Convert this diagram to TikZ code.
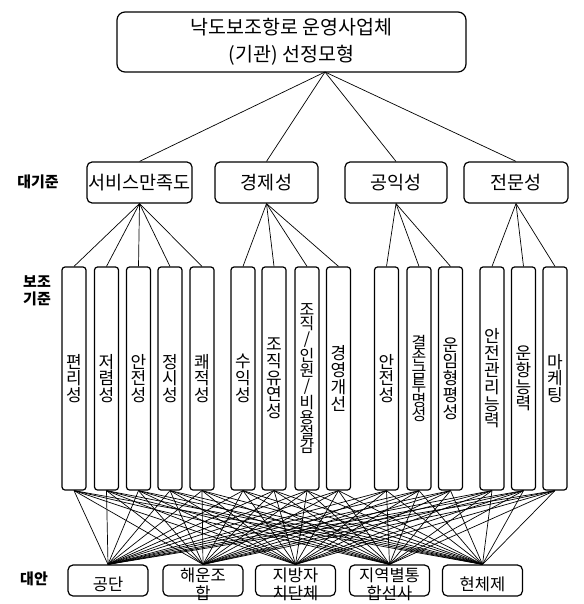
\documentclass[tikz,border=0pt]{standalone}
\usepackage{fontspec}
\setmainfont{Noto Sans CJK KR}
\begin{document}
\begin{tikzpicture}[x=1pt,y=-1pt,
  box/.style={draw, line width=1.2pt, rounded corners=5pt, inner sep=0pt},
  catbox/.style={box, minimum height=41pt, font=\fontsize{18.5}{20}\selectfont},
  subbox/.style={box, rounded corners=3pt, minimum width=24pt, minimum height=223pt, align=center, font=\fontsize{17}{16.8}\selectfont},
  altbox/.style={box, minimum width=80pt, minimum height=31pt},
  alttext/.style={align=center, inner sep=0pt, font=\fontsize{16.5}{18}\selectfont},
  con/.style={line width=0.7pt},
  lab/.style={align=center, inner sep=0pt, font=\fontsize{15}{17}\selectfont\bfseries}]
\useasboundingbox (0,0) rectangle (583,604);

% title
\node[box, rounded corners=8pt, minimum width=349pt, minimum height=60pt, align=center,
      font=\fontsize{19.5}{27}\selectfont] (top) at (291.5,42) {낙도보조항로 운영사업체\\(기관) 선정모형};
\coordinate (tp) at (325,72);

% level labels
\node[lab] (l1) at (38,182) {대기준};
\node[lab] (l2) at (37,291) {보조\\기준};
\node[lab] (l3) at (34,579) {대안};

% categories
\node[catbox, minimum width=105pt] (c1) at (139.5,182.5) {서비스만족도};
\node[catbox, minimum width=103pt] (c2) at (266.5,182.5) {경제성};
\node[catbox, minimum width=102pt] (c3) at (396,182.5) {공익성};
\node[catbox, minimum width=104pt] (c4) at (516,182.5) {전문성};

% sub-criteria
\node[subbox] (s1) at (74,378.5) {편\\리\\성};
\node[subbox] (s2) at (106.5,378.5) {저\\렴\\성};
\node[subbox] (s3) at (138.5,378.5) {안\\전\\성};
\node[subbox] (s4) at (170,378.5) {정\\시\\성};
\node[subbox] (s5) at (202,378.5) {쾌\\적\\성};
\node[subbox] (s6) at (243,378.5) {수\\익\\성};
\node[subbox] (s7) at (274,378.5) {조\\직\\유\\연\\성};
\node[subbox, font=\fontsize{16}{14.8}\selectfont] (s8) at (307,378.5) {조\\직\\/\\인\\원\\/\\비\\용\\절\\감};
\node[subbox] (s9) at (338.5,378.5) {경\\영\\개\\선};
\node[subbox] (s10) at (386.5,378.5) {안\\전\\성};
\node[subbox, font=\fontsize{16}{14.5}\selectfont] (s11) at (419,378.5) {결\\손\\금\\투\\명\\성};
\node[subbox] (s12) at (450.5,378.5) {운\\임\\형\\평\\성};
\node[subbox] (s13) at (492,378.5) {안\\전\\관\\리\\능\\력};
\node[subbox] (s14) at (523.5,378.5) {운\\항\\능\\력};
\node[subbox] (s15) at (555,378.5) {마\\케\\팅};

% alternatives
\node[altbox] (a1) at (108,580.5) {};
\node[altbox] (a2) at (203,580.5) {};
\node[altbox] (a3) at (295.5,580.5) {};
\node[altbox] (a4) at (389.5,580.5) {};
\node[altbox] (a5) at (482.5,580.5) {};
\node[alttext] (t1) at (108,584) {공단};
\node[alttext] (t2) at (203,584) {해운조\\합};
\node[alttext] (t3) at (295.5,584) {지방자\\치단체};
\node[alttext] (t4) at (389.5,584) {지역별통\\합선사};
\node[alttext] (t5) at (482.5,584) {현체제};

% connectors: title to categories
\foreach \c in {c1,c2,c3,c4} \draw[con] (tp) -- (\c.north);
% categories to sub-criteria
\foreach \s in {s1,s2,s3,s4,s5} \draw[con] (c1.south) -- (\s.north);
\foreach \s in {s6,s7,s8,s9} \draw[con] (c2.south) -- (\s.north);
\foreach \s in {s10,s11,s12} \draw[con] (c3.south) -- (\s.north);
\foreach \s in {s13,s14,s15} \draw[con] (c4.south) -- (\s.north);
% sub-criteria to alternatives
\foreach \s in {s1,s2,s3,s4,s5,s6,s7,s8,s9,s10,s11,s12,s13,s14,s15}
  \foreach \a in {a1,a2,a3,a4,a5}
    \draw[con] (\s.south) -- (\a.north);
\end{tikzpicture}
\end{document}
